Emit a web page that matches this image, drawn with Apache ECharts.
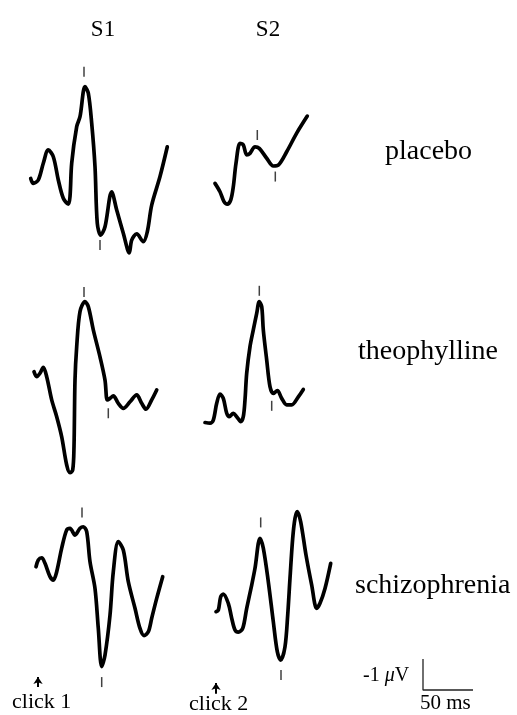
<!DOCTYPE html>
<html><head><meta charset="utf-8">
<script src="https://cdn.jsdelivr.net/npm/echarts@6/dist/echarts.min.js"></script>
<style>html,body{margin:0;padding:0;background:#fff}#c{width:517px;height:715px}</style>
</head><body><div id="c"></div>
<script>
// ---- data: [time (ms after click), amplitude (µV), negative up] ----
const stimuli = ['S1', 'S2'];
const conditions = ['placebo', 'theophylline', 'schizophrenia'];
const clickLabels = ['click 1', 'click 2'];
const scaleMs = 50;
const scaleUV = -1;

const placeboS1 = [[-7.3,0.11],[-4.7,0.27],[0.3,0.16],[5.3,-0.38],[10.3,-0.81],[15.3,-0.59],[20.3,0.16],[25.3,0.75],[30.3,0.94],[32,0.70],[33.7,-0.38],[38.7,-1.56],[42,-1.88],[47,-2.85],[50.3,-2.64],[53.7,-1.67],[57,-0.27],[59.3,1.56],[62.7,1.94],[67,1.67],[73.7,0.54],[78.7,1.13],[85.3,1.88],[91.3,2.51],[93.7,2.10],[98.7,1.90],[105.3,2.15],[109.3,1.83],[113.7,0.97],[122,0.05],[129.3,-0.91]];
const placeboS2 = [[-1,0.27],[4,0.54],[8,0.86],[11.3,0.94],[14.7,0.81],[17.3,0.38],[20,-0.38],[24,-1.02],[27.3,-0.97],[30.7,-0.65],[34,-0.70],[39,-0.91],[43.3,-0.86],[50.7,-0.54],[57.3,-0.29],[62.3,-0.32],[70.7,-0.75],[80.7,-1.35],[91.3,-1.90]];
const theoS1 = [[-4,-0.59],[-1.3,-0.43],[2,-0.54],[5.3,-0.73],[8.7,-0.43],[13.7,0.32],[18.7,0.86],[23.7,1.51],[28.7,2.42],[32,2.67],[34.7,2.58],[36,1.83],[37,-0.32],[38.7,-1.40],[42,-2.53],[47,-2.85],[50.3,-2.69],[55.3,-1.94],[62,-1.07],[67,-0.32],[69.3,0.32],[72,0.27],[75.3,0.19],[80.3,0.43],[85.3,0.59],[92,0.38],[98.7,0.16],[103.7,0.43],[108,0.62],[113.7,0.32],[118.7,0.00]];
const theoS2 = [[-11,1.05],[-6,1.07],[-2.7,0.97],[0.7,0.43],[4,0.13],[7.3,0.27],[10.7,0.75],[13.3,0.86],[17.3,0.75],[20.7,0.86],[24.7,1.02],[27.3,0.86],[29,0.32],[30.7,-0.54],[34,-1.40],[37.3,-1.94],[40.7,-2.47],[43.3,-2.85],[45.7,-2.69],[47.3,-1.94],[50.7,-0.97],[54,-0.11],[57.3,0.11],[61.3,0.02],[65.7,0.27],[70.7,0.48],[75.7,0.48],[82.3,0.22],[87.3,-0.02]];
const schizS1 = [[-2,-0.75],[0.3,-0.97],[3.7,-1.04],[7,-0.86],[12,-0.43],[15.3,-0.32],[18.7,-0.59],[23.7,-1.35],[28.7,-1.94],[32,-1.99],[37,-1.77],[42,-1.99],[45.3,-2.04],[48.7,-1.88],[52,-0.91],[57,-0.05],[60.3,1.24],[63.7,2.47],[67,2.10],[72,0.81],[75.3,-0.59],[80.3,-1.56],[85.3,-1.29],[90.3,-0.27],[97,0.59],[102,1.24],[106,1.47],[110.3,1.35],[113.7,0.91],[118.7,0.27],[124.7,-0.43]];
const schizS2 = [[0,0.70],[2.3,0.65],[4.7,0.22],[7.3,0.13],[12.3,0.43],[15.7,0.91],[19,1.29],[22.3,1.36],[26.7,1.24],[30.7,0.59],[35.7,-0.16],[39,-0.70],[44,-1.67],[47.3,-1.35],[52.3,-0.27],[57.3,1.02],[61.3,1.99],[64.7,2.26],[69,1.83],[71.7,0.81],[74,-0.38],[76.7,-1.67],[79,-2.31],[81.3,-2.53],[84.7,-2.20],[90,-1.13],[95.7,-0.16],[100.7,0.59],[104,0.43],[109,-0.05],[114.7,-0.86]];

// peak marker positions [ms, µV]
const placeboS1Ticks = [[46,-3.33],[62,2.26]];
const placeboS2Ticks = [[41.3,-1.29],[59.3,0.05]];
const theoS1Ticks = [[46,-3.16],[70.3,0.75]];
const theoS2Ticks = [[43.3,-3.2],[55.7,0.51]];
const schizS1Ticks = [[44,-2.5],[63.7,2.97]];
const schizS2Ticks = [[44.7,-2.18],[65,2.74]];

// click arrows [ms, µV from, µV to]
const click1Arrow = [0, 3.13, 2.81];
const click2Arrow = [0, 3.35, 3.0];

const waves = [placeboS1, placeboS2, theoS1, theoS2, schizS1, schizS2];
const ticks = [placeboS1Ticks, placeboS2Ticks, theoS1Ticks, theoS2Ticks, schizS1Ticks, schizS2Ticks];

// ---- layout ----
const colLeft = [18, 196];
const rowBase = [175, 390, 590];
const pxPerUV = 31;
const yHalf = 4;

const grids = [], xAxes = [], yAxes = [], series = [];
for (let r = 0; r < 3; r++) {
  for (let c = 0; c < 2; c++) {
    const i = r * 2 + c;
    grids.push({left: colLeft[c], width: 160, top: rowBase[r] - yHalf * pxPerUV, height: 2 * yHalf * pxPerUV, containLabel: false});
    xAxes.push({type: 'value', gridIndex: i, min: -20, max: 140, show: false});
    yAxes.push({type: 'value', gridIndex: i, min: -yHalf, max: yHalf, inverse: true, show: false});
    const s = {
      type: 'line', xAxisIndex: i, yAxisIndex: i, data: waves[i], smooth: 0.32,
      showSymbol: false, symbol: 'none', clip: false,
      lineStyle: {color: '#000', width: 3.7, cap: 'round', join: 'round'}
    };
    if (r === 2) {
      const a = c === 0 ? click1Arrow : click2Arrow;
      s.markLine = {
        silent: true, symbol: ['none', 'arrow'], symbolSize: [7, 7],
        label: {show: false},
        lineStyle: {color: '#000', width: 2, type: 'solid'},
        data: [[{coord: [a[0], a[1]]}, {coord: [a[0], a[2]]}]]
      };
    }
    series.push(s);
    series.push({
      type: 'scatter', xAxisIndex: i, yAxisIndex: i, data: ticks[i],
      symbol: 'rect', symbolSize: [1.5, 10], itemStyle: {color: '#111'}, silent: true
    });
  }
}
// scale bar grid
grids.push({left: 423, top: 659, width: 50, height: 31});
xAxes.push({type: 'value', gridIndex: 6, min: 0, max: scaleMs, show: false});
yAxes.push({type: 'value', gridIndex: 6, min: scaleUV, max: 0, inverse: true, show: false});
series.push({
  type: 'line', xAxisIndex: 6, yAxisIndex: 6, data: [[0, scaleUV], [0, 0], [scaleMs, 0]],
  symbol: 'none', clip: false, lineStyle: {color: '#222', width: 1.3}
});

const serif = '"Liberation Serif", "Times New Roman", serif';
const txt = (text, x, y, size, align) => ({
  type: 'text', silent: true,
  style: {text, x, y, font: size + 'px ' + serif, fill: '#000', textAlign: align || 'left', textVerticalAlign: 'middle'}
});

const graphic = [
  txt(stimuli[0], 103, 30, 23, 'center'),
  txt(stimuli[1], 268, 30, 23, 'center'),
  txt(conditions[0], 385, 152, 28),
  txt(conditions[1], 358, 352, 28),
  txt(conditions[2], 355, 586, 28),
  txt(clickLabels[0], 12, 702, 22),
  txt(clickLabels[1], 189, 704, 22),
  {type: 'text', silent: true, style: {
    text: '-1 {m|μ}V', x: 363, y: 676, font: '20px ' + serif, fill: '#000', textVerticalAlign: 'middle',
    rich: {m: {fontStyle: 'italic', fontSize: 20, fontFamily: serif, fill: '#000'}}
  }},
  txt(scaleMs + ' ms', 420, 703, 21)
];

const chart = echarts.init(document.getElementById('c'), null, {renderer: 'canvas'});
chart.setOption({animation: false, backgroundColor: '#fff', grid: grids, xAxis: xAxes, yAxis: yAxes, series, graphic});
</script></body></html>
